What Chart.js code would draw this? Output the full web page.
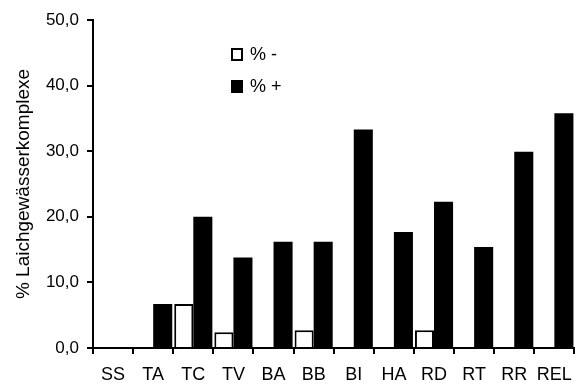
<!DOCTYPE html>
<html>
<head>
<meta charset="utf-8">
<script src="https://cdn.jsdelivr.net/npm/chart.js@4"></script>
<style>
  html, body { margin: 0; padding: 0; background: #fff; }
  #wrap { width: 582px; height: 385px; }
</style>
</head>
<body>
<div id="wrap"><canvas id="myChart" width="582" height="385"></canvas></div>
<script>
// data
var categories = ['SS', 'TA', 'TC', 'TV', 'BA', 'BB', 'BI', 'HA', 'RD', 'RT', 'RR', 'REL'];
var minusValues = [0, 0, 6.7, 2.4, 0, 2.7, 0, 0, 2.7, 0, 0, 0];
var plusValues = [0, 6.7, 20.0, 13.8, 16.2, 16.2, 33.3, 17.7, 22.3, 15.4, 29.9, 35.8];
var seriesLabels = ['% -', '% +'];
var yTickLabels = ['0,0', '10,0', '20,0', '30,0', '40,0', '50,0'];

var fontFamily = '"Liberation Sans", Arial, sans-serif';

// legend drawn inside the plot area, like the original
var innerLegend = {
    id: 'innerLegend',
    afterDraw: function(chart) {
        var ctx = chart.ctx;
        ctx.save();
        ctx.font = '18px ' + fontFamily;
        ctx.textBaseline = 'middle';
        chart.data.datasets.forEach(function(ds, i) {
            var x = 232, y = 54 + i * 32;
            ctx.fillStyle = ds.backgroundColor;
            ctx.fillRect(x, y - 5, 10, 11);
            ctx.strokeStyle = '#000';
            ctx.lineWidth = 2;
            ctx.strokeRect(x, y - 5, 10, 11);
            ctx.fillStyle = '#000';
            ctx.fillText(ds.label, x + 18, y + 1);
        });
        ctx.restore();
    }
};

var ctx = document.getElementById('myChart').getContext('2d');
var myChart = new Chart(ctx, {
    type: 'bar',
    data: {
        labels: categories,
        datasets: [{
            label: seriesLabels[0],
            data: minusValues,
            backgroundColor: '#ffffff',
            borderColor: '#000000',
            borderWidth: 2,
            barPercentage: 1.0,
            categoryPercentage: 0.95
        }, {
            label: seriesLabels[1],
            data: plusValues,
            backgroundColor: '#000000',
            borderColor: '#000000',
            borderWidth: 0,
            barPercentage: 1.0,
            categoryPercentage: 0.95
        }]
    },
    options: {
        responsive: false,
        animation: false,
        layout: { padding: { top: 20, right: 3, left: 0, bottom: 0 } },
        plugins: {
            legend: { display: false },
            tooltip: { enabled: false }
        },
        scales: {
            x: {
                grid: {
                    offset: true,
                    drawOnChartArea: false,
                    drawTicks: true,
                    tickLength: 6,
                    color: '#000',
                    lineWidth: 2
                },
                border: { display: true, color: '#000', width: 2 },
                ticks: {
                    color: '#000',
                    font: { family: fontFamily, size: 18 },
                    padding: 10,
                    maxRotation: 0,
                    autoSkip: false
                },
                afterFit: function(scale) { scale.height = 37; }
            },
            y: {
                min: 0,
                max: 50,
                grid: {
                    drawOnChartArea: false,
                    drawTicks: true,
                    tickLength: 6,
                    color: '#000',
                    lineWidth: 2
                },
                border: { display: true, color: '#000', width: 2 },
                ticks: {
                    stepSize: 10,
                    color: '#000',
                    padding: 8,
                    font: { family: fontFamily, size: 17 },
                    callback: function(value, index) { return yTickLabels[index]; }
                },
                title: {
                    display: true,
                    text: '% Laichgewässerkomplexe',
                    color: '#000',
                    font: { family: fontFamily, size: 19 },
                    padding: { top: 12, bottom: 0 }
                },
                afterFit: function(scale) { scale.width = 93; }
            }
        }
    },
    plugins: [innerLegend]
});
</script>
</body>
</html>
